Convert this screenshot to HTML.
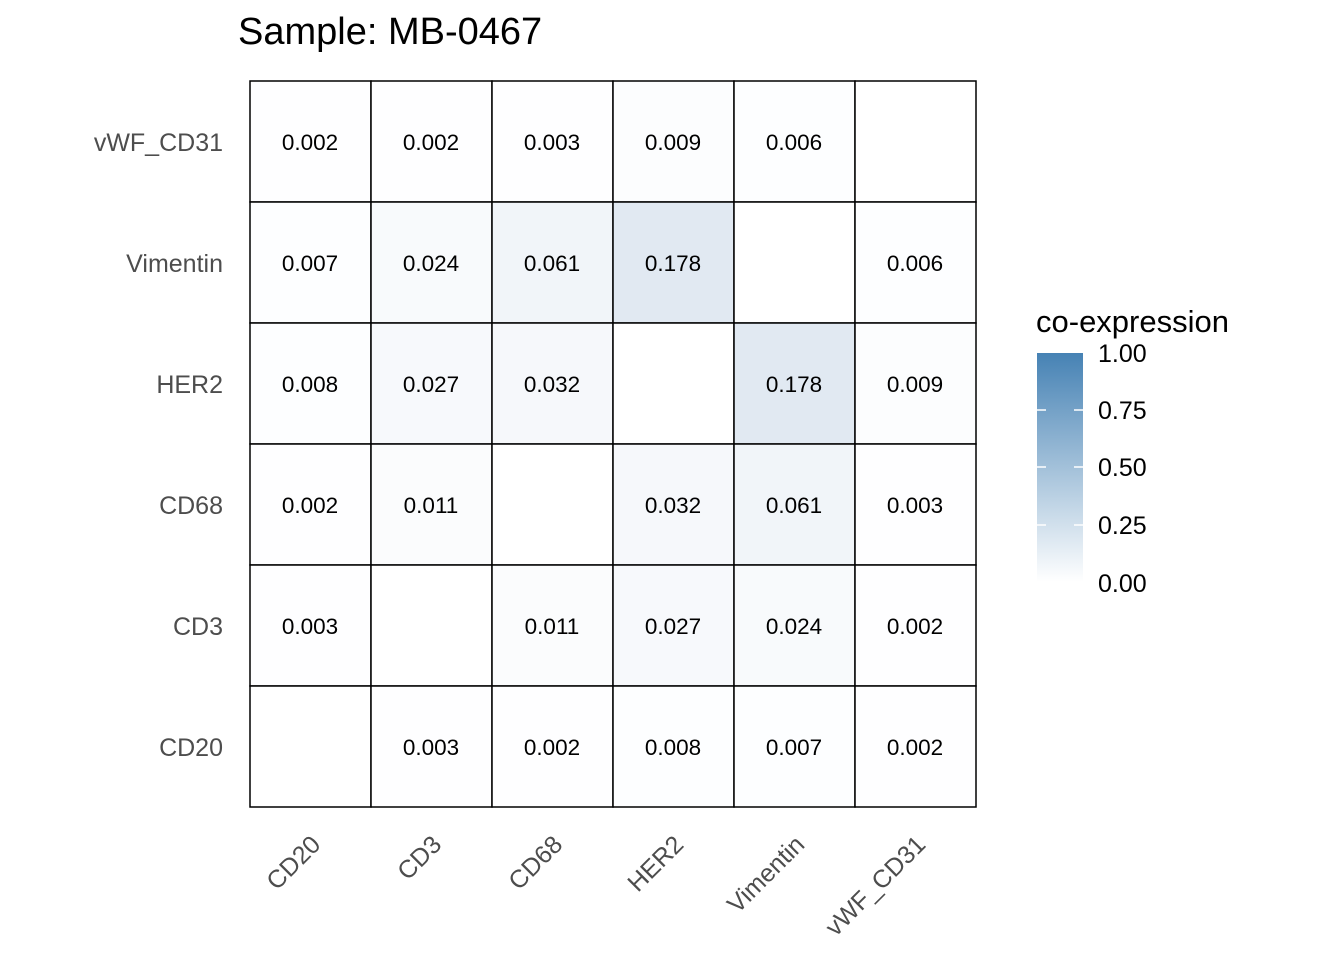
<!DOCTYPE html>
<html><head><meta charset="utf-8"><style>body{margin:0;background:#fff}</style></head><body>
<svg width="1344" height="960" xmlns="http://www.w3.org/2000/svg" font-family="Liberation Sans, sans-serif">
<defs><linearGradient id="g" x1="0" y1="1" x2="0" y2="0"><stop offset="0" stop-color="#ffffff"/><stop offset="1" stop-color="#4682b4"/></linearGradient></defs>
<text x="238" y="44" font-size="38" fill="#000">Sample: MB-0467</text>
<g stroke="#000" stroke-width="1.5">
<rect x="250" y="81" width="121" height="121" fill="#fefeff"/><rect x="371" y="81" width="121" height="121" fill="#fefeff"/><rect x="492" y="81" width="121" height="121" fill="#fefeff"/><rect x="613" y="81" width="121" height="121" fill="#fcfdfe"/><rect x="734" y="81" width="121" height="121" fill="#fdfeff"/><rect x="855" y="81" width="121" height="121" fill="#fff"/>
<rect x="250" y="202" width="121" height="121" fill="#fdfeff"/><rect x="371" y="202" width="121" height="121" fill="#f8fafc"/><rect x="492" y="202" width="121" height="121" fill="#f1f5f9"/><rect x="613" y="202" width="121" height="121" fill="#e1e9f2"/><rect x="734" y="202" width="121" height="121" fill="#fff"/><rect x="855" y="202" width="121" height="121" fill="#fdfeff"/>
<rect x="250" y="323" width="121" height="121" fill="#fdfeff"/><rect x="371" y="323" width="121" height="121" fill="#f7f9fc"/><rect x="492" y="323" width="121" height="121" fill="#f6f8fb"/><rect x="613" y="323" width="121" height="121" fill="#fff"/><rect x="734" y="323" width="121" height="121" fill="#e1e9f2"/><rect x="855" y="323" width="121" height="121" fill="#fcfdfe"/>
<rect x="250" y="444" width="121" height="121" fill="#fefeff"/><rect x="371" y="444" width="121" height="121" fill="#fbfcfd"/><rect x="492" y="444" width="121" height="121" fill="#fff"/><rect x="613" y="444" width="121" height="121" fill="#f6f8fb"/><rect x="734" y="444" width="121" height="121" fill="#f1f5f9"/><rect x="855" y="444" width="121" height="121" fill="#fefeff"/>
<rect x="250" y="565" width="121" height="121" fill="#fefeff"/><rect x="371" y="565" width="121" height="121" fill="#fff"/><rect x="492" y="565" width="121" height="121" fill="#fbfcfd"/><rect x="613" y="565" width="121" height="121" fill="#f7f9fc"/><rect x="734" y="565" width="121" height="121" fill="#f8fafc"/><rect x="855" y="565" width="121" height="121" fill="#fefeff"/>
<rect x="250" y="686" width="121" height="121" fill="#fff"/><rect x="371" y="686" width="121" height="121" fill="#fefeff"/><rect x="492" y="686" width="121" height="121" fill="#fefeff"/><rect x="613" y="686" width="121" height="121" fill="#fdfeff"/><rect x="734" y="686" width="121" height="121" fill="#fdfeff"/><rect x="855" y="686" width="121" height="121" fill="#fefeff"/>
</g>
<g font-size="22.5" fill="#000" text-anchor="middle">
<text x="310" y="150">0.002</text><text x="431" y="150">0.002</text><text x="552" y="150">0.003</text><text x="673" y="150">0.009</text><text x="794" y="150">0.006</text>
<text x="310" y="271">0.007</text><text x="431" y="271">0.024</text><text x="552" y="271">0.061</text><text x="673" y="271">0.178</text><text x="915" y="271">0.006</text>
<text x="310" y="392">0.008</text><text x="431" y="392">0.027</text><text x="552" y="392">0.032</text><text x="794" y="392">0.178</text><text x="915" y="392">0.009</text>
<text x="310" y="513">0.002</text><text x="431" y="513">0.011</text><text x="673" y="513">0.032</text><text x="794" y="513">0.061</text><text x="915" y="513">0.003</text>
<text x="310" y="634">0.003</text><text x="552" y="634">0.011</text><text x="673" y="634">0.027</text><text x="794" y="634">0.024</text><text x="915" y="634">0.002</text>
<text x="431" y="755">0.003</text><text x="552" y="755">0.002</text><text x="673" y="755">0.008</text><text x="794" y="755">0.007</text><text x="915" y="755">0.002</text>
</g>
<g font-size="25" fill="#4d4d4d" text-anchor="end">
<text x="223" y="151">vWF_CD31</text><text x="223" y="272">Vimentin</text><text x="223" y="393">HER2</text><text x="223" y="514">CD68</text><text x="223" y="635">CD3</text><text x="223" y="756">CD20</text>
</g>
<g font-size="25" fill="#4d4d4d" text-anchor="end">
<text transform="translate(322,846) rotate(-45)">CD20</text>
<text transform="translate(443,846) rotate(-45)">CD3</text>
<text transform="translate(564,846) rotate(-45)">CD68</text>
<text transform="translate(685,846) rotate(-45)">HER2</text>
<text transform="translate(806,846) rotate(-45)">Vimentin</text>
<text transform="translate(927,846) rotate(-45)">vWF_CD31</text>
</g>
<text x="1036" y="332" font-size="31" fill="#000">co-expression</text>
<rect x="1037" y="353" width="46" height="229" fill="url(#g)"/>
<g stroke="#fff" stroke-width="1.5">
<line x1="1037" y1="410" x2="1046" y2="410"/><line x1="1074" y1="410" x2="1083" y2="410"/>
<line x1="1037" y1="467" x2="1046" y2="467"/><line x1="1074" y1="467" x2="1083" y2="467"/>
<line x1="1037" y1="525" x2="1046" y2="525"/><line x1="1074" y1="525" x2="1083" y2="525"/>
</g>
<g font-size="25" fill="#000">
<text x="1098" y="362">1.00</text><text x="1098" y="419">0.75</text><text x="1098" y="476">0.50</text><text x="1098" y="534">0.25</text><text x="1098" y="592">0.00</text>
</g>
</svg>
</body></html>
